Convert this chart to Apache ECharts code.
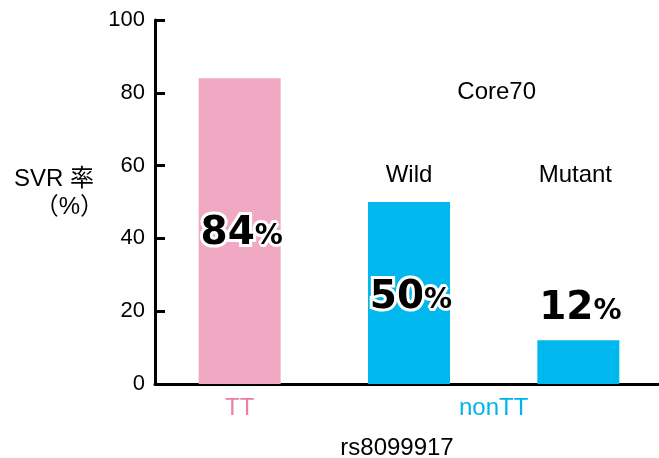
<!DOCTYPE html>
<html>
<head>
<meta charset="utf-8">
<script src="https://cdn.jsdelivr.net/npm/echarts@6/dist/echarts.min.js"></script>
<style>
  html, body { margin: 0; padding: 0; background: #fff; }
  #chart { width: 659px; height: 458px; }
</style>
</head>
<body>
<div id="chart"></div>
<script>
// SVR rate by rs8099917 genotype, with nonTT split by Core70 status
const categories = ['TT', 'Wild', 'Mutant'];
const svrRate = [84, 50, 12];
const barColors = ['#F1A8C2', '#00B8EE', '#00B8EE'];
const yTicks = { min: 0, max: 100, interval: 20 };
const groupLabels = [
  { at: 0.5, text: 'TT', style: 'tt' },
  { at: 2, text: 'nonTT', style: 'non' }
];

const FONT = '"Liberation Sans", Arial, "Noto Sans CJK JP", sans-serif';
const BADGE = '"DejaVu Sans", sans-serif';

const chart = echarts.init(document.getElementById('chart'));

const labelPos = ['inside', 'inside', 'top'];
const labelOffset = [[2, 3], [2, 5], [2, 0]];

chart.setOption({
  animation: false,
  grid: { left: 155, top: 20, width: 508, height: 364, outerBoundsMode: 'none', containLabel: false },
  xAxis: [
    {
      type: 'category',
      data: categories,
      boundaryGap: true,
      name: 'rs8099917',
      nameLocation: 'middle',
      nameGap: 52,
      nameTextStyle: { color: '#000', fontSize: 24, fontFamily: FONT, padding: [0, 24, 0, 0] },
      axisLine: { lineStyle: { color: '#000', width: 3 } },
      axisTick: { inside: true, length: 8, lineStyle: { color: '#000', width: 3 }, interval: 0 },
      axisLabel: { show: false },
      splitLine: { show: false }
    },
    {
      type: 'value',
      min: 0,
      max: categories.length,
      interval: 0.5,
      position: 'bottom',
      axisLine: { show: false },
      axisTick: { show: false },
      splitLine: { show: false },
      axisLabel: {
        margin: 12,
        fontSize: 24,
        fontFamily: FONT,
        formatter: function (v) {
          const g = groupLabels.find(function (d) { return Math.abs(d.at - v) < 1e-6; });
          return g ? '{' + g.style + '|' + g.text + '}' : '';
        },
        rich: {
          tt: { color: '#EE7EA5', fontSize: 24, fontFamily: FONT },
          non: { color: '#00B5EC', fontSize: 24, fontFamily: FONT }
        }
      }
    }
  ],
  yAxis: {
    type: 'value',
    min: yTicks.min,
    max: yTicks.max,
    interval: yTicks.interval,
    axisLine: { show: true, lineStyle: { color: '#000', width: 3 } },
    axisTick: { show: true, inside: true, length: 10, lineStyle: { color: '#000', width: 3 } },
    axisLabel: { color: '#000', fontSize: 22, fontFamily: FONT, margin: 10 },
    splitLine: { show: false }
  },
  series: [{
    type: 'bar',
    xAxisIndex: 0,
    barWidth: 82,
    data: svrRate.map(function (v, i) {
      return {
        value: v,
        itemStyle: { color: barColors[i] },
        label: { position: labelPos[i], offset: labelOffset[i], distance: 12 }
      };
    }),
    label: {
      show: true,
      formatter: function (p) { return '{n|' + p.value + '}{p|%}'; },
      rich: {
        n: {
          fontFamily: BADGE, fontWeight: 'bold', fontSize: 39, color: '#000',
          textBorderColor: '#fff', textBorderWidth: 6
        },
        p: {
          fontFamily: BADGE, fontWeight: 'bold', fontSize: 28, color: '#000',
          textBorderColor: '#fff', textBorderWidth: 6, verticalAlign: 'bottom', padding: [0, 0, 3, 0]
        }
      }
    }
  }]
});

// annotations for the Core70 subgroups
function at(cat, val) { return chart.convertToPixel({ xAxisIndex: 0, yAxisIndex: 0 }, [cat, val]); }
const wild = at('Wild', 57.2);
const mutant = at('Mutant', 57.2);
const core = at('Wild', 80);
const textStyle = { fill: '#000', fontSize: 24, fontFamily: FONT, align: 'center', verticalAlign: 'middle' };

chart.setOption({
  graphic: [
    { type: 'text', x: wild[0], y: wild[1], style: Object.assign({ text: 'Wild' }, textStyle) },
    { type: 'text', x: mutant[0] - 3, y: mutant[1], style: Object.assign({ text: 'Mutant' }, textStyle) },
    { type: 'text', x: (wild[0] + mutant[0]) / 2 + 3, y: core[1], style: Object.assign({ text: 'Core70' }, textStyle) },
    { type: 'text', x: 94, y: 179, style: { text: 'SVR 率', fill: '#000', fontSize: 24, fontFamily: FONT, align: 'right', verticalAlign: 'middle' } },
    { type: 'text', x: 104, y: 207, style: { text: '（%）', fill: '#000', fontSize: 24, fontFamily: FONT, align: 'right', verticalAlign: 'middle' } }
  ]
});
</script>
</body>
</html>
